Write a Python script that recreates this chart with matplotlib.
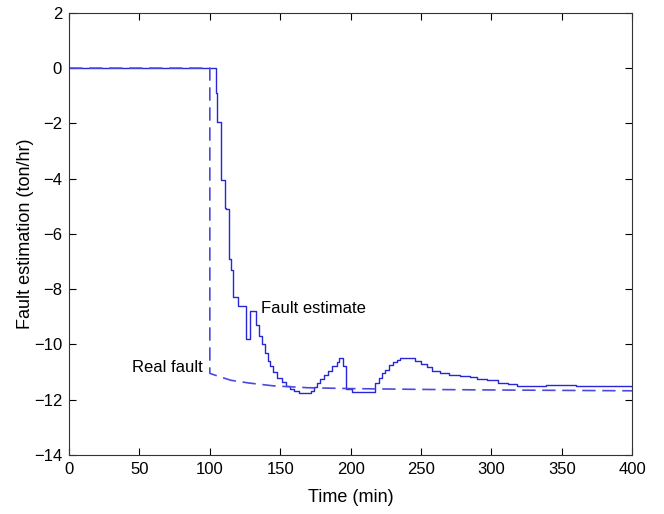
import numpy as np
import matplotlib
matplotlib.use('Agg')
import matplotlib.pyplot as plt

plt.rcParams['font.family'] = ['Liberation Sans', 'DejaVu Sans']

# fault estimate (staircase), time in min, value in ton/hr
est_t = [0, 104, 104.3, 105, 108, 110.5, 111.5, 113.7, 115, 116.5, 120, 125.8, 128.6,
         133, 135, 137, 139, 141, 143, 145, 148, 151, 154, 157, 160, 163, 172, 174,
         176, 178, 181, 184, 187, 190, 192, 194.5, 197, 201, 215, 217.4, 220, 222,
         224.5, 227, 230, 233, 235, 242, 246, 250, 254, 258, 263.6, 270, 278, 285,
         290, 296.8, 305, 312, 318, 339, 360, 400]
est_v = [0, 0, -0.9, -1.95, -4.05, -5.07, -5.1, -6.9, -7.3, -8.3, -8.6, -9.8, -8.8,
         -9.3, -9.7, -10.0, -10.3, -10.6, -10.8, -11.0, -11.2, -11.35, -11.5, -11.6,
         -11.7, -11.75, -11.7, -11.55, -11.4, -11.25, -11.1, -10.95, -10.8, -10.65,
         -10.5, -10.8, -11.6, -11.72, -11.72, -11.4, -11.2, -11.05, -10.93, -10.75,
         -10.63, -10.55, -10.49, -10.49, -10.6, -10.7, -10.81, -10.95, -11.04, -11.1,
         -11.15, -11.19, -11.24, -11.3, -11.38, -11.45, -11.5, -11.48, -11.52, -11.54]

# real fault
real_t = [0, 100, 100, 107, 115, 128, 145, 170, 200, 250, 300, 400]
real_v = [0, 0, -11.05, -11.17, -11.3, -11.4, -11.5, -11.57, -11.6, -11.63, -11.65, -11.68]

fig = plt.figure(figsize=(6.64, 5.14), dpi=100)
ax = fig.add_axes([0.104, 0.115, 0.848, 0.86])

ax.plot(est_t, est_v, color='#2727d8', lw=1.0, drawstyle='steps-post')
ax.plot(real_t, real_v, color='#4a4ae0', lw=1.2, dashes=(8, 4))

ax.text(136, -8.7, 'Fault estimate', fontsize=12, va='center', ha='left')
ax.text(95, -10.85, 'Real fault', fontsize=12, va='center', ha='right')

ax.set_xlim(0, 400)
ax.set_ylim(-14, 2)
ax.set_xticks(np.arange(0, 401, 50))
ax.set_yticks(np.arange(-14, 3, 2))
ax.tick_params(direction='in', top=True, right=True, labelsize=12, length=5, pad=5)
for s in ax.spines.values():
    s.set_color('#333333')
ax.set_xlabel('Time (min)', fontsize=13, labelpad=9)
ax.set_ylabel('Fault estimation (ton/hr)', fontsize=13, labelpad=0)

plt.savefig('out.png', dpi=100)
